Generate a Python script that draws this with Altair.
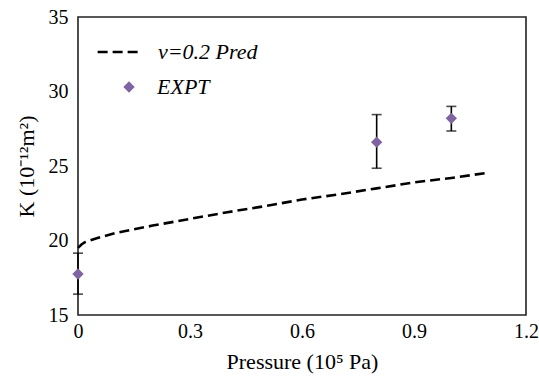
import altair as alt
import pandas as pd

# Prediction curve (v=0.2 Pred)
pred_x = [0.0, 0.01, 0.02, 0.05, 0.1, 0.2, 0.3, 0.4, 0.5, 0.6, 0.7, 0.8, 0.9, 1.0, 1.1]
pred_k = [19.5, 19.75, 19.9, 20.15, 20.5, 21.0, 21.45, 21.9, 22.3, 22.75, 23.1, 23.5, 23.9, 24.2, 24.55]

# Experimental points
expt_x = [0.0, 0.8, 1.0]
expt_k = [17.75, 26.6, 28.2]
expt_lo = [16.4, 24.85, 27.35]
expt_hi = [19.15, 28.45, 29.0]

pred_df = pd.DataFrame({"x": pred_x, "k": pred_k, "s": ["v=0.2 Pred"] * len(pred_x)})
expt_df = pd.DataFrame({"x": expt_x, "k": expt_k, "lo": expt_lo, "hi": expt_hi, "s": ["EXPT"] * len(expt_x)})

FONT = "Liberation Serif"
PURPLE = "#8064A2"

xscale = alt.Scale(domain=[0, 1.2], nice=False)
yscale = alt.Scale(domain=[15, 35], nice=False, zero=False)

xaxis = alt.Axis(values=[0, 0.3, 0.6, 0.9, 1.2], labelExpr="datum.value == 0 ? '0' : format(datum.value, '.1f')",
                 title="Pressure (10⁵ Pa)", grid=False, ticks=False, domain=False, labelFlush=False,
                 labelPadding=6, titlePadding=10)
yaxis = alt.Axis(values=[15, 20, 25, 30, 35], title="K (10⁻¹²m²)", grid=False, ticks=False, domain=False,
                 labelFlush=False, labelPadding=10, titlePadding=10)

line = alt.Chart(pred_df).mark_line(color="black", strokeWidth=2.6).encode(
    x=alt.X("x:Q", scale=xscale, axis=xaxis),
    y=alt.Y("k:Q", scale=yscale, axis=yaxis),
    strokeDash=alt.StrokeDash("s:N", scale=alt.Scale(domain=["v=0.2 Pred"], range=[[10, 5]]),
                              legend=alt.Legend(title=None, orient="none", legendX=18, legendY=11,
                                                labelFontStyle="italic",
                                                symbolSize=2000, symbolStrokeWidth=2.6,
                                                symbolStrokeColor="black", labelOffset=14)),
)

rules = alt.Chart(expt_df).mark_rule(color="black", strokeWidth=1.6).encode(
    x="x:Q", y="lo:Q", y2="hi:Q"
)
caps_lo = alt.Chart(expt_df).mark_tick(color="black", thickness=1.6, size=10, orient="horizontal").encode(
    x="x:Q", y="lo:Q"
)
caps_hi = alt.Chart(expt_df).mark_tick(color="black", thickness=1.6, size=10, orient="horizontal").encode(
    x="x:Q", y="hi:Q"
)
points = alt.Chart(expt_df).mark_point(filled=True, color=PURPLE, opacity=1, size=128).encode(
    x="x:Q", y="k:Q",
    shape=alt.Shape("s:N", scale=alt.Scale(domain=["EXPT"], range=["diamond"]),
                    legend=alt.Legend(title=None, orient="none", legendX=40, legendY=59,
                                      labelFontStyle="italic",
                                      symbolSize=128, symbolFillColor=PURPLE,
                                      symbolStrokeWidth=0, labelOffset=17)),
)

chart = alt.layer(line, rules, caps_lo, caps_hi, points).resolve_scale(
    strokeDash="independent", shape="independent"
).properties(
    width=448, height=298,
    padding={"left": 78, "top": 17, "right": 13, "bottom": 64},
    autosize=alt.AutoSizeParams(type="none"),
    background="white",
).configure(font=FONT).configure_axis(
    labelFont=FONT, labelFontSize=20, labelColor="#000",
    titleFont=FONT, titleFontSize=22, titleFontWeight="normal", titleColor="#000",
).configure_legend(
    labelFont=FONT, labelFontSize=22, labelColor="#000",
).configure_view(
    stroke="#222", strokeWidth=1.6
)

chart.save("out.html", embed_options={"renderer": "svg", "actions": False})
